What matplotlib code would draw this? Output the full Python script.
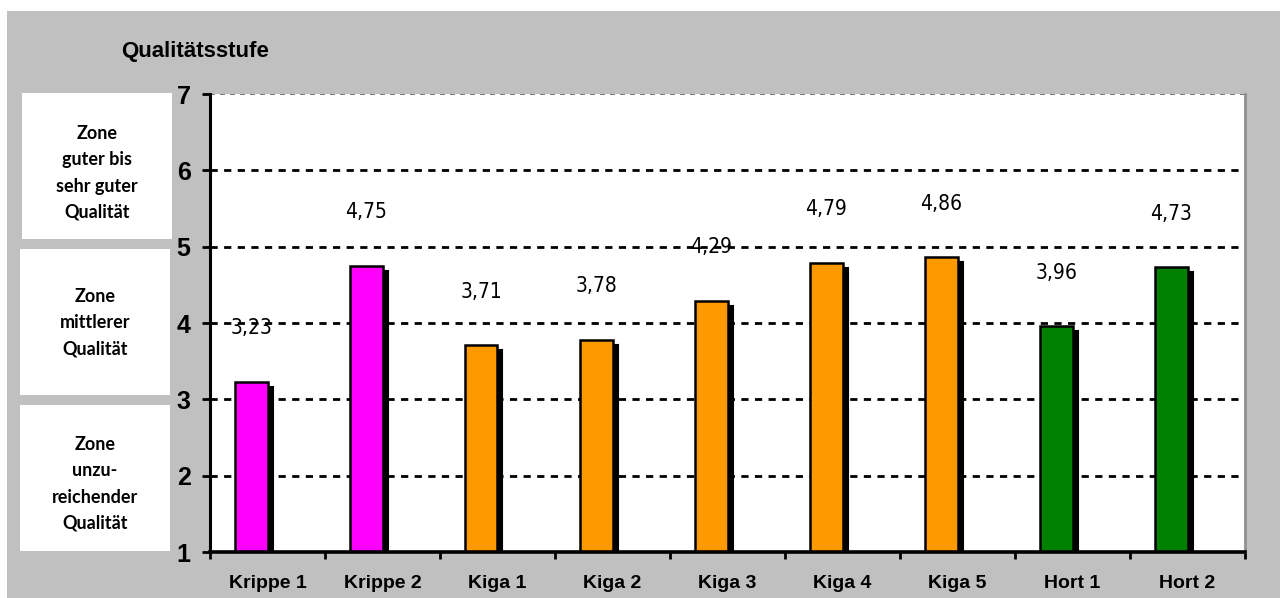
import matplotlib
matplotlib.use("Agg")
import matplotlib.pyplot as plt
from matplotlib.patches import Rectangle
from matplotlib.transforms import ScaledTranslation

# Data
categories = ["Krippe 1", "Krippe 2", "Kiga 1", "Kiga 2", "Kiga 3",
              "Kiga 4", "Kiga 5", "Hort 1", "Hort 2"]
values = [3.23, 4.75, 3.71, 3.78, 4.29, 4.79, 4.86, 3.96, 4.73]
bar_colors = ["#FF00FF", "#FF00FF", "#FF9900", "#FF9900", "#FF9900",
              "#FF9900", "#FF9900", "#008000", "#008000"]
y_ticks = [1, 2, 3, 4, 5, 6, 7]
zone_labels = ["Zone\nguter bis\nsehr guter\nQualität",
               "Zone\nmittlerer\nQualität",
               "Zone\nunzu-\nreichender\nQualität"]
y_title = "Qualitätsstufe"

W, H = 1280, 598
fig = plt.figure(figsize=(W / 100, H / 100), dpi=100)
fig.patch.set_facecolor("white")

def fx(px):
    return px / W

def fy(py):
    return 1 - py / H

# grey chart background
fig.patches.append(Rectangle((fx(7), 0), 1, fy(11), transform=fig.transFigure,
                             facecolor="#C0C0C0", edgecolor="none", zorder=-10))

# zone boxes: (left, top, right, bottom, text centre) in pixels
zone_boxes = [(22, 93, 172, 239, 173), (20, 249, 170, 395, 323),
              (20, 405, 170, 551, 484)]
for (x0, y0, x1, y1, yc), txt in zip(zone_boxes, zone_labels):
    fig.patches.append(Rectangle((fx(x0), fy(y1)), fx(x1 - x0), (y1 - y0) / H,
                                 transform=fig.transFigure, facecolor="white",
                                 edgecolor="none", zorder=-5))
    fig.text(fx((x0 + x1) / 2), fy(yc), txt, ha="center", va="center",
             fontsize=13, fontweight="bold", family=["Lato", "DejaVu Sans"],
             linespacing=1.65, zorder=2)

fig.text(fx(195), fy(51), y_title, ha="center", va="center", fontsize=16,
         fontweight="bold", family=["Liberation Sans", "DejaVu Sans"])

ax = fig.add_axes([fx(210), fy(552), fx(1245 - 210), (552 - 94) / H])
ax.set_zorder(1)
ax.set_facecolor("white")
ax.set_xlim(-0.5, len(categories) - 0.5)
ax.set_ylim(1, 7)

# grid
for yv in y_ticks[1:-1]:
    ax.axhline(yv, color="black", lw=2.0, ls=(0, (2.6, 2.3)), zorder=1)
ax.axhline(7, color="#606060", lw=1.2, ls=(0, (3, 3)), zorder=1)

bar_w = 0.28
xs = [i - bar_w for i in range(len(categories))]
shadow = ax.transData + ScaledTranslation(5 / 100, -5 / 100, fig.dpi_scale_trans)
ax.bar(xs, [v - 1 for v in values], width=bar_w, bottom=1, align="edge",
       color="black", edgecolor="black", linewidth=1.5, transform=shadow, zorder=2)
ax.bar(xs, [v - 1 for v in values], width=bar_w, bottom=1, align="edge",
       color=bar_colors, edgecolor="black", linewidth=1.8, zorder=3)

for i, v in enumerate(values):
    ax.annotate(f"{v:.2f}".replace(".", ","), xy=(i - bar_w / 2, v),
                xytext=(0, 38.5), textcoords="offset points", ha="center",
                va="center", fontsize=15, fontstretch="condensed",
                family=["DejaVu Sans"], zorder=4)

# spines
ax.spines["left"].set_linewidth(2.2)
ax.spines["bottom"].set_linewidth(2.6)
ax.spines["left"].set_color("black")
ax.spines["bottom"].set_color("black")
ax.spines["right"].set_color("#909090")
ax.spines["right"].set_linewidth(2.0)
ax.spines["top"].set_visible(False)
for s in ax.spines.values():
    s.set_zorder(5)

ax.set_yticks(y_ticks)
ax.set_yticklabels([str(t) for t in y_ticks], fontsize=18, fontweight="bold",
                   family=["Liberation Sans", "DejaVu Sans"])
ax.tick_params(axis="y", length=6, width=2, direction="out", pad=8)

ax.set_xticks(range(len(categories)))
ax.set_xticklabels(categories, fontsize=14, fontweight="bold",
                   family=["Liberation Sans", "DejaVu Sans"])
ax.tick_params(axis="x", which="major", length=0, pad=16.5)
ax.set_xticks([i - 0.5 for i in range(len(categories) + 1)], minor=True)
ax.tick_params(axis="x", which="minor", length=5, width=2, direction="out")

fig.savefig("out.png", dpi=100, facecolor=fig.get_facecolor())
